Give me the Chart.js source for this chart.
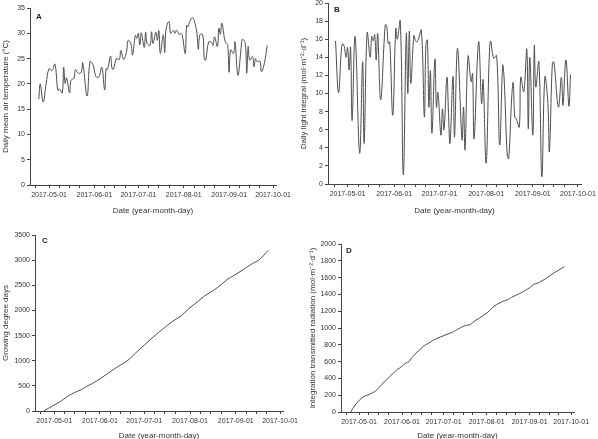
<!DOCTYPE html>
<html>
<head>
    <title>Greenhouse climate, 2017 season</title>
    <script src="https://cdn.jsdelivr.net/npm/chart.js"></script>
    <style>
        html, body { margin: 0; padding: 0; background: #fff; overflow: hidden; }
        body { width: 598px; height: 439px; position: relative; }
        canvas { position: absolute; }
    </style>
</head>
<body>
    <canvas id="chartA" width="298" height="220" style="left:0px;top:0px"></canvas>
    <canvas id="chartB" width="300" height="220" style="left:298px;top:0px"></canvas>
    <canvas id="chartC" width="298" height="225" style="left:0px;top:220px"></canvas>
    <canvas id="chartD" width="300" height="225" style="left:298px;top:220px"></canvas>

    <script>
        // x values are day of year 2017 (1 = Jan 1, 121 = May 1)
        const monthTickDays = [121, 152, 182, 213, 244, 274];
        const monthTickLabels = ['2017-05-01', '2017-06-01', '2017-07-01', '2017-08-01', '2017-09-01', '2017-10-01'];

        // A - daily mean air temperature (°C)
        const tempDays = [114, 115, 117, 119, 121, 123, 125, 127, 128, 130, 131, 132, 133, 135, 136, 138, 139, 141, 143, 144,
            147, 149, 151, 153, 155, 157, 159, 160, 161, 163, 164, 165, 167, 169, 170, 172, 174, 175, 177, 178,
            180, 181, 182, 183, 184, 186, 187, 188, 190, 191, 192, 194, 195, 196, 197, 199, 200, 201, 203, 204,
            206, 207, 208, 210, 211, 212, 214, 215, 216, 217, 219, 221, 222, 223, 224, 226, 227, 228, 230, 232,
            233, 234, 236, 237, 238, 239, 241, 242, 243, 244, 245, 247, 248, 250, 252, 253, 255, 256, 257, 258,
            260, 261, 262, 263, 265, 266, 268, 270];
        const tempValues = [17, 20, 16.4, 20, 23, 22.6, 23.9, 18.7, 19, 18.2, 23.3, 20.1, 21.2, 18.2, 20.7, 21.1, 22.8, 22.1, 22.3, 24.2,
            17.6, 24.4, 23.8, 21.5, 21.3, 23.3, 18.8, 23, 22.9, 25.5, 23.1, 22.9, 25, 24.8, 26.6, 24.8, 26.5, 28.6, 27.8, 25.7,
            29.6, 29, 30, 27.7, 30.1, 27.2, 30.2, 28, 27.6, 30.3, 28, 30.2, 28.6, 30.5, 26, 29.7, 26.2, 31, 32.3, 30,
            30.6, 30, 30.6, 29.7, 30, 29.6, 26, 31.6, 31.3, 32.3, 33.1, 31.6, 30, 26.8, 29.7, 29.7, 24.9, 24.7, 28.3, 28.2,
            27.6, 29.3, 27.4, 31, 29.8, 32, 28.7, 28, 27.8, 22.3, 26.7, 26, 28.3, 21.7, 26.5, 28.8, 28, 22.1, 27.4, 24.7,
            25.4, 23.4, 25, 24.4, 24.5, 22.4, 24, 27.6];

        // B - daily light integral (mol m-2 d-1)
        const dliDays = [113, 115, 117, 118, 119, 120, 121, 122, 123, 124, 126, 129, 131, 132, 134, 136, 137, 138, 139, 140,
            141, 143, 146, 147, 148, 149, 151, 153, 154, 156, 158, 160, 161, 162, 163, 165, 166, 167, 168, 170,
            172, 173, 174, 175, 176, 177, 179, 180, 181, 183, 184, 185, 187, 188, 189, 191, 192, 194, 197, 198,
            199, 201, 203, 204, 205, 208, 210, 211, 213, 215, 216, 218, 220, 222, 224, 225, 227, 228, 230, 231,
            232, 233, 235, 236, 238, 240, 241, 242, 244, 245, 246, 248, 250, 252, 254, 255, 257, 258, 261, 263,
            264, 266, 268, 269];
        const dliValues = [15.8, 10.1, 15.1, 15.5, 15, 14, 15.1, 12.6, 15.1, 7, 16.3, 3.4, 13.5, 4.5, 16.7, 14, 16.3, 15.8, 16.5, 13.7,
            16.6, 9.3, 17.6, 17.4, 15.5, 15.7, 7.6, 17.2, 16, 18, 1, 16.6, 10, 16.9, 11.1, 16.4, 15.9, 15.7, 16, 17,
            7.4, 15.4, 15.9, 8.5, 12.5, 5.6, 13.8, 8.5, 10.1, 5.4, 8.3, 6, 11.8, 7.8, 4.5, 11.9, 5.2, 15, 4.9, 8.5,
            3.8, 14.1, 11.3, 12.2, 5, 15.7, 8.9, 11.5, 2.3, 13.7, 15.8, 13.9, 14.2, 4.3, 13.1, 11.5, 3.2, 2.8, 9.6, 11.2,
            7.4, 7.2, 6.3, 11.8, 10.2, 14.9, 6.1, 14, 5.4, 15.3, 10.7, 13.5, 0.8, 11.8, 8.9, 3.6, 13.4, 13.5, 8.5, 11.8,
            8.7, 13.7, 8.6, 12.1];

        // C - growing degree days (cumulative)
        const gddDays = [114, 118, 121, 125, 130, 135, 139, 143, 147, 152, 158, 164, 171, 176, 182, 188, 195, 201, 207, 212,
            218, 223, 229, 234, 238, 243, 249, 254, 260, 266];
        const gddValues = [0, 70, 120, 185, 290, 370, 420, 490, 550, 640, 760, 880, 1010, 1150, 1310, 1470, 1640, 1780, 1890, 2030,
            2170, 2290, 2400, 2510, 2610, 2700, 2810, 2910, 3010, 3195];

        // D - integrated transmitted radiation (cumulative)
        const radDays = [115, 118, 121, 124, 127, 129, 132, 134, 137, 140, 143, 146, 148, 150, 153, 155, 157, 159, 162, 165,
            168, 171, 174, 177, 180, 183, 186, 189, 192, 195, 198, 201, 203, 205, 208, 211, 214, 218, 222, 225,
            228, 231, 234, 237, 241, 244, 247, 250, 252, 255, 257, 260, 263, 266, 269];
        const radValues = [0, 80, 135, 180, 200, 215, 240, 265, 320, 370, 420, 465, 500, 520, 560, 585, 600, 645, 700, 745,
            790, 818, 850, 875, 895, 915, 935, 955, 985, 1010, 1030, 1040, 1065, 1090, 1120, 1155, 1190, 1255, 1295, 1320,
            1335, 1365, 1390, 1410, 1450, 1480, 1520, 1535, 1555, 1580, 1605, 1640, 1670, 1700, 1730];

        const FONT = '"Liberation Sans", Arial, sans-serif';
        const INK = '#333';

        // month starts are labelled, the 8th, 15th and 22nd get small unlabelled ticks
        const monthStarts = [91, 121, 152, 182, 213, 244, 274];
        const xTicks = [];
        monthStarts.forEach(m => [0, 7, 14, 21].forEach(o => {
            const d = m + o;
            if (d >= 108 && d <= 276) xTicks.push(d);
        }));

        const panelLetter = {
            id: 'panelLetter',
            afterDraw(chart, args, opts) {
                const { ctx, chartArea } = chart;
                ctx.save();
                ctx.font = 'bold 8px ' + FONT;
                ctx.fillStyle = '#222';
                ctx.textBaseline = 'top';
                ctx.fillText(opts.text, chartArea.left + opts.dx, chartArea.top + opts.dy);
                ctx.restore();
            }
        };

        function makeChart(id, days, values, cfg) {
            const points = days.map((d, i) => ({ x: d, y: values[i] }));
            const axisGrid = { display: true, drawOnChartArea: false, drawTicks: true, tickLength: 3, tickColor: '#444', lineWidth: 1 };
            const line = {
                data: points,
                borderColor: '#4d4d4d',
                borderWidth: 1,
                pointRadius: 0,
                fill: false
            };
            if (cfg.smooth === 'monotone') line.cubicInterpolationMode = 'monotone';
            else line.tension = cfg.smooth;

            return new Chart(document.getElementById(id), {
                type: 'line',
                data: { datasets: [line] },
                options: {
                    responsive: false,
                    animation: false,
                    events: [],
                    layout: { padding: cfg.padding },
                    plugins: {
                        legend: { display: false },
                        tooltip: { enabled: false },
                        panelLetter: cfg.letter
                    },
                    scales: {
                        x: {
                            type: 'linear',
                            min: 108,
                            max: 276,
                            afterBuildTicks: s => { s.ticks = xTicks.map(v => ({ value: v })); },
                            afterFit: s => { s.height = cfg.xHeight; s.paddingLeft = 0; s.paddingRight = 0; },
                            ticks: {
                                autoSkip: false,
                                maxRotation: 0,
                                padding: 3,
                                color: INK,
                                font: { family: FONT, size: 7 },
                                callback: v => {
                                    const i = monthTickDays.indexOf(v);
                                    return i >= 0 ? monthTickLabels[i] : '';
                                }
                            },
                            grid: axisGrid,
                            border: { display: true, color: '#444', width: 1 },
                            title: {
                                display: true,
                                text: 'Date (year-month-day)',
                                color: INK,
                                font: { family: FONT, size: 8 },
                                padding: { top: 0, bottom: 4 }
                            }
                        },
                        y: {
                            min: 0,
                            max: cfg.yMax,
                            afterFit: s => { s.width = cfg.yWidth; s.paddingTop = 0; s.paddingBottom = 0; },
                            ticks: {
                                stepSize: cfg.yStep,
                                padding: 2,
                                color: INK,
                                font: { family: FONT, size: 7 },
                                callback: v => String(v)
                            },
                            grid: axisGrid,
                            border: { display: true, color: '#444', width: 1 },
                            title: {
                                display: true,
                                text: cfg.yTitle,
                                color: INK,
                                font: { family: FONT, size: 8 },
                                padding: { top: cfg.yTitlePad, bottom: 0 }
                            }
                        }
                    }
                },
                plugins: [panelLetter]
            });
        }

        makeChart('chartA', tempDays, tempValues, {
            padding: { left: 0, right: 22, top: 8, bottom: 0 },
            xHeight: 35, yWidth: 30, yMax: 35, yStep: 5, yTitlePad: 1, smooth: 0.4,
            yTitle: 'Daily mean air temperature (°C)',
            letter: { text: 'A', dx: 6, dy: 5 }
        });

        makeChart('chartB', dliDays, dliValues, {
            padding: { left: 0, right: 17, top: 3, bottom: 0 },
            xHeight: 36, yWidth: 30, yMax: 20, yStep: 2, yTitlePad: 1, smooth: 0.4,
            yTitle: 'Daily light integral (mol·m⁻²·d⁻¹)',
            letter: { text: 'B', dx: 6, dy: 3 }
        });

        makeChart('chartC', gddDays, gddValues, {
            padding: { left: 0, right: 15, top: 15, bottom: 0 },
            xHeight: 34, yWidth: 35, yMax: 3500, yStep: 500, yTitlePad: 1, smooth: 'monotone',
            yTitle: 'Growing degree days',
            letter: { text: 'C', dx: 7, dy: 2 }
        });

        makeChart('chartD', radDays, radValues, {
            padding: { left: 0, right: 24, top: 24, bottom: 0 },
            xHeight: 33, yWidth: 43, yMax: 2000, yStep: 200, yTitlePad: 10, smooth: 'monotone',
            yTitle: 'Integration transmitted radiation (mol·m⁻²·d⁻¹)',
            letter: { text: 'D', dx: 5, dy: 3 }
        });
    </script>
</body>
</html>
